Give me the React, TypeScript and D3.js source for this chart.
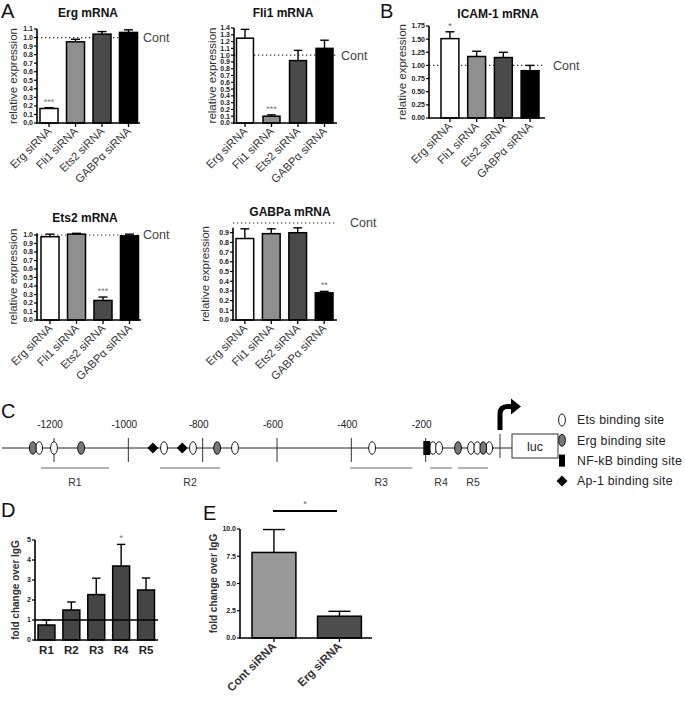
import React from 'react';
import * as d3 from 'd3';

const sirnaCats = ['Erg siRNA', 'Fli1 siRNA', 'Ets2 siRNA', 'GABPα siRNA'];
const sirnaFills = ['#ffffff', '#8f8f8f', '#4a4a4a', '#000000'];

const ergMrna = [0.17, 0.95, 1.04, 1.06];
const ergMrnaErr = [0.01, 0.03, 0.03, 0.03];
const ergStars = ['***', '', '', ''];
const ergTicks = [0, 0.1, 0.2, 0.3, 0.4, 0.5, 0.6, 0.7, 0.8, 0.9, 1.0, 1.1];

const fli1Mrna = [1.25, 0.10, 0.92, 1.10];
const fli1MrnaErr = [0.13, 0.02, 0.15, 0.12];
const fli1Stars = ['', '***', '', ''];
const fli1Ticks = [0, 0.1, 0.2, 0.3, 0.4, 0.5, 0.6, 0.7, 0.8, 0.9, 1.0, 1.1, 1.2, 1.3, 1.4];

const icamMrna = [1.51, 1.17, 1.15, 0.90];
const icamMrnaErr = [0.13, 0.10, 0.10, 0.10];
const icamStars = ['*', '', '', ''];
const icamTicks = [0, 0.25, 0.5, 0.75, 1.0, 1.25, 1.5, 1.75];

const ets2Mrna = [0.98, 1.01, 0.23, 0.99];
const ets2MrnaErr = [0.03, 0.01, 0.04, 0.02];
const ets2Stars = ['', '', '***', ''];
const ets2Ticks = [0, 0.1, 0.2, 0.3, 0.4, 0.5, 0.6, 0.7, 0.8, 0.9, 1.0];

const gabpMrna = [0.84, 0.89, 0.90, 0.28];
const gabpMrnaErr = [0.10, 0.05, 0.05, 0.015];
const gabpStars = ['', '', '', '**'];
const gabpTicks = [0, 0.1, 0.2, 0.3, 0.4, 0.5, 0.6, 0.7, 0.8, 0.9];

const chipCats = ['R1', 'R2', 'R3', 'R4', 'R5'];
const chipValues = [0.75, 1.5, 2.27, 3.7, 2.5];
const chipErr = [0.25, 0.4, 0.82, 1.08, 0.6];
const chipStars = ['', '', '', '*', ''];
const chipFills = ['#454545', '#454545', '#454545', '#454545', '#454545'];
const chipTicks = [0, 1, 2, 3, 4, 5];

const eCats = ['Cont siRNA', 'Erg siRNA'];
const eValues = [7.85, 2.0];
const eErr = [2.1, 0.45];
const eFills = ['#999999', '#4d4d4d'];
const eStars = ['', ''];
const eTicks = [0, 2.5, 5.0, 7.5, 10.0];

// promoter diagram (bp relative to TSS)
const bpTicks = [-1200, -1000, -800, -600, -400, -200];
const etsSites = [-1240, -1200, -904, -826, -713, -344, -180, -164, -78, -61, -29];
const ergSites = [-1257, -1127, -761, -113, -45];
const nfkbSites = [-197];
const ap1Sites = [-934, -855];
const regionNames = ['R1', 'R2', 'R3', 'R4', 'R5'];
const regionStart = [-1235, -915, -403, -188, -113];
const regionEnd = [-1052, -753, -236, -129, -32];
const legendItems = ['Ets binding site', 'Erg binding site', 'NF-kB binding site', 'Ap-1 binding site'];

const FONT = 'Liberation Sans, Arial, Helvetica, sans-serif';

type BarProps = {
  cats: string[]; values: number[]; errs: number[]; fills: string[]; stars: string[];
  ticks: number[]; fmt: (v: number) => string; yMax: number; axisTopVal?: number;
  x0: number; x1: number; b0: number; b1: number; pad: number;
  y0: number; yTop: number;
  title?: string; titleX?: number; titleY?: number;
  ylabel: string; ylabelX: number; ylabelSize?: number; ylabelBold?: boolean;
  contX?: number; refLine?: 'dotted' | 'solid';
  labelMode: 'rot' | 'flat'; labelSize: number; labelBold?: boolean;
  xTicks?: boolean; starColor?: string;
};

function BarPanel(p: BarProps) {
  const ys = d3.scaleLinear().domain([0, p.yMax]).range([p.y0, p.yTop]);
  const xs = d3.scaleBand<string>().domain(p.cats).range([p.b0, p.b1]).paddingInner(p.pad).paddingOuter(0);
  const bw = xs.bandwidth();
  const axisTop = ys(p.axisTopVal ?? p.yMax);
  const cy = (p.y0 + axisTop) / 2;
  return (
    <g fontFamily={FONT}>
      {p.title && (
        <text x={p.titleX} y={p.titleY} fontSize={12} fontWeight="bold" textAnchor="middle" fill="#111">{p.title}</text>
      )}
      <text transform={`translate(${p.ylabelX},${cy}) rotate(-90)`} fontSize={p.ylabelSize ?? 11.5}
        fontWeight={p.ylabelBold ? 'bold' : 'normal'} textAnchor="middle" fill="#333">{p.ylabel}</text>
      {p.refLine === 'dotted' && (
        <line x1={p.x0} x2={p.x1} y1={ys(1)} y2={ys(1)} stroke="#333" strokeWidth={1.2} strokeDasharray="1.3 2.7" />
      )}
      {p.contX !== undefined && (
        <text x={p.contX} y={ys(1)} dy="0.35em" fontSize={12.5} fill="#444">Cont</text>
      )}
      {p.cats.map((c, i) => {
        const x = xs(c)!;
        const cx = x + bw / 2;
        const top = ys(p.values[i]);
        const et = ys(p.values[i] + p.errs[i]);
        return (
          <g key={c}>
            <line x1={cx} x2={cx} y1={top} y2={et} stroke="#000" strokeWidth={1.4} />
            <line x1={cx - bw / 4} x2={cx + bw / 4} y1={et} y2={et} stroke="#000" strokeWidth={1.4} />
            <rect x={x} y={top} width={bw} height={p.y0 - top} fill={p.fills[i]} stroke="#000" strokeWidth={1.5} />
            {p.stars[i] && (
              <text x={cx} y={et - 3} fontSize={9} textAnchor="middle" fill={p.starColor ?? '#777'}>{p.stars[i]}</text>
            )}
          </g>
        );
      })}
      {p.refLine === 'solid' && (
        <line x1={p.x0} x2={p.x1} y1={ys(1)} y2={ys(1)} stroke="#000" strokeWidth={1.3} />
      )}
      <line x1={p.x0} x2={p.x0} y1={p.y0 + 0.75} y2={axisTop} stroke="#000" strokeWidth={1.6} />
      <line x1={p.x0 - 0.8} x2={p.x1} y1={p.y0} y2={p.y0} stroke="#000" strokeWidth={1.6} />
      {p.ticks.map(t => (
        <g key={t}>
          <line x1={p.x0 - 3} x2={p.x0} y1={ys(t)} y2={ys(t)} stroke="#000" strokeWidth={1.2} />
          <text x={p.x0 - 4} y={ys(t)} dy="0.35em" fontSize={7} fontWeight="bold" textAnchor="end" fill="#222">{p.fmt(t)}</text>
        </g>
      ))}
      {p.cats.map(c => {
        const cx = xs(c)! + bw / 2;
        return (
          <g key={'l' + c}>
            {p.xTicks && <line x1={cx} x2={cx} y1={p.y0} y2={p.y0 + 4} stroke="#000" strokeWidth={1.3} />}
            {p.labelMode === 'rot' ? (
              <text transform={`translate(${cx + 3},${p.y0 + 9}) rotate(-45)`} fontSize={p.labelSize}
                fontWeight={p.labelBold ? 'bold' : 'normal'} textAnchor="end" fill="#333">{c}</text>
            ) : (
              <text x={cx} y={p.y0 + 14} fontSize={p.labelSize} fontWeight="bold" textAnchor="middle" fill="#222">{c}</text>
            )}
          </g>
        );
      })}
    </g>
  );
}

function Promoter() {
  const bx = d3.scaleLinear().domain([-1200, 0]).range([54, 500]);
  const ly = 448;
  const ell = (x: number, fill: string, key: string) => (
    <ellipse key={key} cx={x} cy={ly} rx={3.4} ry={6.3} fill={fill} stroke="#000" strokeWidth={0.9} />
  );
  const dia = (x: number, y: number, key: string) => (
    <path key={key} d={`M${x - 5.5},${y} L${x},${y - 5.5} L${x + 5.5},${y} L${x},${y + 5.5} Z`} fill="#000" />
  );
  return (
    <g fontFamily={FONT}>
      <line x1={2} x2={512} y1={ly} y2={ly} stroke="#222" strokeWidth={1} />
      {bpTicks.map(t => (
        <g key={t}>
          <line x1={bx(t)} x2={bx(t)} y1={438} y2={462} stroke="#333" strokeWidth={1} />
          <text x={bx(t) - 4} y={428} fontSize={10} textAnchor="middle" fill="#222">{t}</text>
        </g>
      ))}
      <line x1={bx(0)} x2={bx(0)} y1={434} y2={458} stroke="#333" strokeWidth={1} />
      {etsSites.map((s, i) => ell(bx(s), '#fff', 'e' + i))}
      {ergSites.map((s, i) => ell(bx(s), '#777', 'g' + i))}
      {nfkbSites.map((s, i) => (
        <rect key={'n' + i} x={bx(s) - 3.5} y={ly - 7} width={7} height={14} fill="#000" />
      ))}
      {ap1Sites.map((s, i) => dia(bx(s), ly, 'a' + i))}
      {regionNames.map((r, i) => (
        <g key={r}>
          <line x1={bx(regionStart[i])} x2={bx(regionEnd[i])} y1={468} y2={468} stroke="#666" strokeWidth={1} />
          <text x={(bx(regionStart[i]) + bx(regionEnd[i])) / 2} y={486} fontSize={10.5} textAnchor="middle" fill="#333">{r}</text>
        </g>
      ))}
      <rect x={512} y={434} width={46} height={24} fill="#fff" stroke="#333" strokeWidth={1} />
      <text x={535} y={451} fontSize={12.5} textAnchor="middle" fill="#222">luc</text>
      <path d={`M${bx(0)},430 L${bx(0)},414 Q${bx(0)},406.5 508,406.5 L512,406.5`} fill="none" stroke="#000" strokeWidth={5} />
      <path d="M511,398.5 L521,406.5 L511,414.5 Z" fill="#000" />
      {legendItems.map((t, i) => {
        const y = 420 + i * 20.3;
        return (
          <g key={t}>
            {i === 0 && <ellipse cx={562} cy={y} rx={3.4} ry={6} fill="#fff" stroke="#000" strokeWidth={0.9} />}
            {i === 1 && <ellipse cx={562} cy={y} rx={3.4} ry={6} fill="#777" stroke="#000" strokeWidth={0.9} />}
            {i === 2 && <rect x={559} y={y - 6} width={6} height={12} fill="#000" />}
            {i === 3 && dia(562, y, 'ld')}
            <text x={577} y={y} dy="0.35em" fontSize={12.3} letterSpacing={0.25} fill="#222">{t}</text>
          </g>
        );
      })}
    </g>
  );
}

export default function App() {
  const f1 = d3.format('.1f');
  const f2 = d3.format('.2f');
  const f0 = d3.format('d');
  return (
    <svg width={685} height={701} viewBox="0 0 685 701" style={{ position: 'absolute', left: 0, top: 0, background: '#fff' }}>
      <rect width={685} height={701} fill="#fff" />
      <g fontFamily={FONT} fontSize={20} fill="#111">
        <text x={1} y={18}>A</text>
        <text x={380} y={18}>B</text>
        <text x={1} y={418}>C</text>
        <text x={1} y={517}>D</text>
        <text x={203} y={520}>E</text>
      </g>
      <BarPanel cats={sirnaCats} values={ergMrna} errs={ergMrnaErr} fills={sirnaFills} stars={ergStars}
        ticks={ergTicks} fmt={f1} yMax={1.1} x0={37} x1={140} b0={40} b1={137.5} pad={0.32}
        y0={123} yTop={29} title="Erg mRNA" titleX={88} titleY={17} ylabel="relative expression" ylabelX={17}
        contX={143} refLine="dotted" labelMode="rot" labelSize={11.3} xTicks />
      <BarPanel cats={sirnaCats} values={fli1Mrna} errs={fli1MrnaErr} fills={sirnaFills} stars={fli1Stars}
        ticks={fli1Ticks} fmt={f1} yMax={1.4} x0={234} x1={337} b0={236.5} b1={333} pad={0.36}
        y0={123} yTop={28} title="Fli1 mRNA" titleX={283} titleY={17} ylabel="relative expression" ylabelX={216}
        contX={341} refLine="dotted" labelMode="rot" labelSize={11.3} xTicks />
      <BarPanel cats={sirnaCats} values={icamMrna} errs={icamMrnaErr} fills={sirnaFills} stars={icamStars}
        ticks={icamTicks} fmt={f2} yMax={1.75} x0={429} x1={545} b0={441} b1={539} pad={0.33}
        y0={118} yTop={26} title="ICAM-1 mRNA" titleX={498} titleY={18} ylabel="relative expression" ylabelX={406}
        contX={553} refLine="dotted" labelMode="rot" labelSize={11.3} xTicks starColor="#555" />
      <BarPanel cats={sirnaCats} values={ets2Mrna} errs={ets2MrnaErr} fills={sirnaFills} stars={ets2Stars}
        ticks={ets2Ticks} fmt={f1} yMax={1.0} axisTopVal={1.02} x0={37} x1={141} b0={41} b1={138.5} pad={0.32}
        y0={320} yTop={235} title="Ets2 mRNA" titleX={85} titleY={222} ylabel="relative expression" ylabelX={17}
        contX={143} refLine="dotted" labelMode="rot" labelSize={11.3} xTicks />
      <BarPanel cats={sirnaCats} values={gabpMrna} errs={gabpMrnaErr} fills={sirnaFills} stars={gabpStars}
        ticks={gabpTicks} fmt={f1} yMax={0.9} axisTopVal={0.95} x0={233} x1={337} b0={236} b1={333} pad={0.33}
        y0={320} yTop={232.7} title="GABPa mRNA" titleX={290} titleY={216} ylabel="relative expression" ylabelX={209}
        contX={350} refLine="dotted" labelMode="rot" labelSize={11.3} xTicks />
      <Promoter />
      <BarPanel cats={chipCats} values={chipValues} errs={chipErr} fills={chipFills} stars={chipStars}
        ticks={chipTicks} fmt={f0} yMax={5} x0={35} x1={158} b0={38} b1={154.5} pad={0.32}
        y0={640} yTop={540} ylabel="fold change over IgG" ylabelX={19} ylabelSize={10} ylabelBold
        refLine="solid" labelMode="flat" labelSize={11.5} />
      <BarPanel cats={eCats} values={eValues} errs={eErr} fills={eFills} stars={eStars}
        ticks={eTicks} fmt={f1} yMax={10} x0={240} x1={372} b0={252} b1={361.4} pad={0.33}
        y0={638} yTop={529} ylabel="fold change over IgG" ylabelX={217} ylabelSize={10} ylabelBold
        labelMode="rot" labelSize={11.5} labelBold xTicks />
      <line x1={273} x2={337} y1={511} y2={511} stroke="#000" strokeWidth={1.8} />
      <text x={305} y={507} fontSize={9} textAnchor="middle" fill="#666" fontFamily={FONT}>*</text>
    </svg>
  );
}
